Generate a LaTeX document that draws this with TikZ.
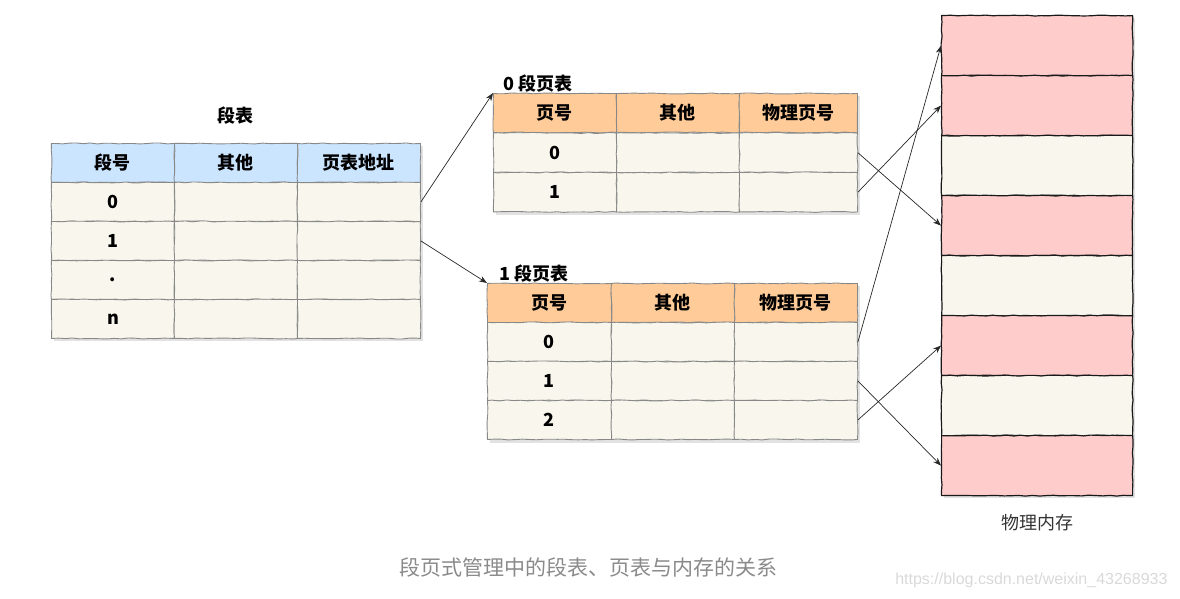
\documentclass[tikz,border=0pt]{standalone}
\usepackage{fontspec}
\setmainfont{Noto Sans CJK SC}
\newfontfamily\urlfont{Liberation Sans}
\usetikzlibrary{positioning,decorations.pathmorphing,arrows.meta}

\definecolor{segblue}{HTML}{CCE5FF}
\definecolor{pageorange}{HTML}{FFCC99}
\definecolor{rowcream}{HTML}{F9F7ED}
\definecolor{framepink}{HTML}{FFCCCC}
\definecolor{gridgrey}{HTML}{888888}
\definecolor{shadowgrey}{HTML}{E2E2E2}
\definecolor{captiongrey}{HTML}{8A8A8A}

\tikzset{
    sketch/.style={decorate, decoration={random steps, segment length=7pt, amplitude=0.5pt}},
    cell/.style={draw=gridgrey, line width=0.9pt, sketch, anchor=north west,
        minimum height=39pt, inner sep=0pt, font=\fontsize{18}{21}\selectfont\bfseries},
    framebox/.style={draw=black!90, line width=1.2pt, sketch, anchor=north west,
        minimum width=191pt, minimum height=60pt, inner sep=0pt},
    title/.style={inner sep=0pt, font=\fontsize{18}{21}\selectfont\bfseries},
    link/.style={-{Stealth[length=8pt,width=6pt]}, line width=0.7pt, black!85},
}

\begin{document}
\begin{tikzpicture}[x=1pt, y=-1pt]
    \pgfmathsetseed{7}
    \useasboundingbox (0,0) rectangle (1180,598);

    % shadows under the tables
    \fill[shadowgrey] (54,146) rectangle (423,341);
    \fill[shadowgrey] (496,96) rectangle (860,215);
    \fill[shadowgrey] (490,286) rectangle (860,443);
    \fill[shadowgrey] (944,18) rectangle (1135,498);

    % segment table
    \node[cell, fill=segblue, minimum width=123pt] (seg-0-0) at (51,143) {段号};
    \node[cell, fill=segblue, minimum width=123pt] (seg-0-1) at (174,143) {其他};
    \node[cell, fill=segblue, minimum width=123pt] (seg-0-2) at (297,143) {页表地址};
    \foreach \r/\lab in {1/0, 2/1, 3/., 4/n} {
        \node[cell, fill=rowcream, minimum width=123pt] (seg-\r-0) at (51,143+39*\r) {\lab};
        \node[cell, fill=rowcream, minimum width=123pt] (seg-\r-1) at (174,143+39*\r) {};
        \node[cell, fill=rowcream, minimum width=123pt] (seg-\r-2) at (297,143+39*\r) {};
    }
    \node[title, above=19pt of seg-0-1.north] (seg-title) {段表};

    % page table of segment 0
    \node[cell, fill=pageorange, minimum width=123pt] (pt0-0-0) at (493,93) {页号};
    \node[cell, fill=pageorange, minimum width=123pt] (pt0-0-1) at (616,93) {其他};
    \node[cell, fill=pageorange, minimum width=118pt] (pt0-0-2) at (739,93) {物理页号};
    \foreach \r in {1,2} {
        \pgfmathtruncatemacro\num{\r-1}
        \node[cell, fill=rowcream, minimum width=123pt, minimum height=39.5pt] (pt0-\r-0) at (493,93+39.5*\r) {\num};
        \node[cell, fill=rowcream, minimum width=123pt, minimum height=39.5pt] (pt0-\r-1) at (616,93+39.5*\r) {};
        \node[cell, fill=rowcream, minimum width=118pt, minimum height=39.5pt] (pt0-\r-2) at (739,93+39.5*\r) {};
    }
    \node[title, above right=1pt and 10pt of pt0-0-0.north west] (pt0-title) {0 段页表};

    % page table of segment 1
    \node[cell, fill=pageorange, minimum width=124pt] (pt1-0-0) at (487,283) {页号};
    \node[cell, fill=pageorange, minimum width=123pt] (pt1-0-1) at (611,283) {其他};
    \node[cell, fill=pageorange, minimum width=123pt] (pt1-0-2) at (734,283) {物理页号};
    \foreach \r in {1,2,3} {
        \pgfmathtruncatemacro\num{\r-1}
        \node[cell, fill=rowcream, minimum width=124pt] (pt1-\r-0) at (487,283+39*\r) {\num};
        \node[cell, fill=rowcream, minimum width=123pt] (pt1-\r-1) at (611,283+39*\r) {};
        \node[cell, fill=rowcream, minimum width=123pt] (pt1-\r-2) at (734,283+39*\r) {};
    }
    \node[title, above right=1pt and 12pt of pt1-0-0.north west] (pt1-title) {1 段页表};

    % physical memory
    \foreach \k/\col in {1/framepink, 2/framepink, 3/rowcream, 4/framepink,
                         5/rowcream, 6/framepink, 7/rowcream, 8/framepink}
        \node[framebox, fill=\col] (mem-\k) at (941,15+60*\k-60) {};
    \node[inner sep=0pt, below=18pt of mem-8.south, text=black!80,
          font=\fontsize{18}{21}\selectfont] (mem-title) {物理内存};

    % links
    \draw[link] (seg-1-2.east) -- (pt0-0-0.north west);
    \draw[link] (seg-2-2.east) -- (pt1-0-0.north west);
    \draw[link] (pt0-1-2.east) -- (mem-4.west);
    \draw[link] (pt0-2-2.east) -- (mem-2.west);
    \draw[link] (pt1-1-2.east) -- (mem-1.west);
    \draw[link] (pt1-2-2.east) -- (mem-8.west);
    \draw[link] (pt1-3-2.east) -- (mem-6.west);

    % caption
    \node[text=captiongrey, font=\fontsize{21}{24}\selectfont] (caption) at (588,567)
        {段页式管理中的段表、页表与内存的关系};
    \node[anchor=east, text=black!15, font=\urlfont\fontsize{16}{18}\selectfont] (mark) at (1171,580)
        {https://blog.csdn.net/weixin\_43268933};
\end{tikzpicture}
\end{document}
